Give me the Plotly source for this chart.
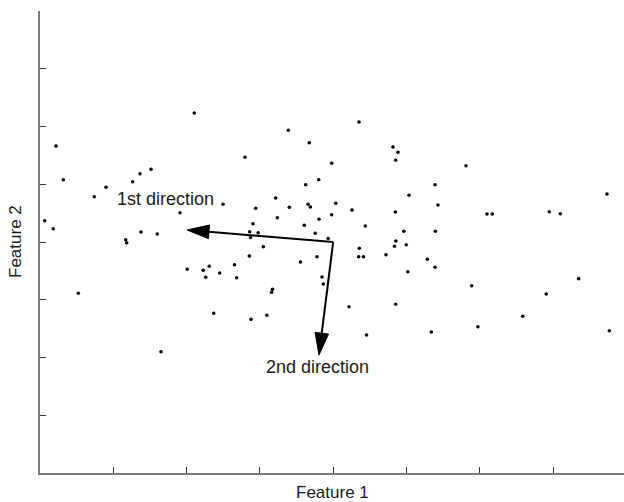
import math
import plotly.graph_objects as go

# Scatter data (Feature 1, Feature 2)
feature1 = [2.105, 0.218, 0.318, 1.515, 1.364, 1.265, 0.901, 0.741, 2.497, 1.910,
            0.064, 0.181, 4.353, 3.388, 3.674, 2.797, 4.816, 4.885, 4.853, 3.980,
            3.803, 3.625, 5.035, 3.216, 2.943, 3.402, 3.657, 3.688, 4.035, 4.257,
            4.848, 3.238, 3.807, 3.980, 2.906, 3.606, 4.439, 5.813, 5.390, 5.430,
            6.099, 6.171, 6.949, 7.099, 7.736, 1.378, 1.600, 1.169, 1.183, 2.861,
            2.977, 2.872, 3.755, 3.932, 3.047, 2.856, 2.654, 2.310, 2.008, 2.227,
            2.261, 2.452, 3.554, 3.780, 4.357, 4.348, 4.414, 0.523, 2.370, 1.651,
            2.684, 3.848, 3.866, 3.172, 3.159, 2.879, 3.095, 4.216, 4.455, 4.853,
            4.721, 4.837, 4.855, 4.998, 4.964, 5.285, 5.017, 5.394, 5.390, 5.890,
            6.907, 7.350, 6.586, 5.974, 5.339, 7.768]
feature2 = [6.234, 5.662, 5.079, 5.259, 5.183, 5.044, 4.947, 4.784, 4.653, 4.507,
            4.369, 4.229, 6.078, 5.934, 5.719, 5.467, 5.645, 5.553, 5.415, 5.363,
            5.079, 4.992, 4.809, 4.762, 4.584, 4.601, 4.653, 4.606, 4.670, 4.554,
            4.519, 4.421, 4.393, 4.473, 4.317, 4.289, 4.277, 5.321, 4.992, 4.641,
            4.485, 4.485, 4.525, 4.490, 4.831, 4.173, 4.139, 4.040, 3.988, 4.177,
            4.161, 4.078, 4.151, 4.061, 3.919, 3.758, 3.605, 3.581, 3.527, 3.510,
            3.389, 3.463, 3.654, 3.745, 3.891, 3.745, 3.745, 3.112, 2.765, 2.100,
            3.382, 3.394, 3.273, 3.181, 3.129, 2.661, 2.731, 2.880, 2.390, 2.921,
            3.780, 3.926, 4.017, 3.953, 4.185, 3.702, 3.486, 4.187, 3.562, 3.243,
            3.100, 3.365, 2.713, 2.533, 2.442, 2.464]

# Direction arrows (origin and tips)
origin = [4.0, 4.0]
dir_tips = [[2.006, 4.208], [3.807, 2.043]]
dir_labels = ["1st direction", "2nd direction"]
label_pos = [[1.706, 4.745], [3.793, 1.835]]

# Axis ticks
x_ticks = [0, 1, 2, 3, 4, 5, 6, 7]
y_ticks = [0, 1, 2, 3, 4, 5, 6, 7, 8]

# Layout geometry
W, H = 624, 502
ML, MR, MT, MB = 40, 0, 11, 29
X_RANGE = [0, (W - ML - MR) / 73.29]
Y_RANGE = [0, 8]
px_x = (W - ML - MR) / (X_RANGE[1] - X_RANGE[0])
px_y = (H - MT - MB) / (Y_RANGE[1] - Y_RANGE[0])

HEAD_LEN = 22.0   # px
HEAD_HALF = 6.8   # px

fig = go.Figure()

fig.add_trace(go.Scatter(
    x=feature1, y=feature2, mode="markers",
    marker=dict(size=3.6, color="black"),
    showlegend=False, hoverinfo="skip"))

shapes = []
for tip in dir_tips:
    dxp = (tip[0] - origin[0]) * px_x
    dyp = (tip[1] - origin[1]) * px_y
    L = math.hypot(dxp, dyp)
    ux, uy = dxp / L, dyp / L
    bx = tip[0] - ux * HEAD_LEN / px_x
    by = tip[1] - uy * HEAD_LEN / px_y
    nx, ny = -uy, ux
    p1 = (bx + nx * HEAD_HALF / px_x, by + ny * HEAD_HALF / px_y)
    p2 = (bx - nx * HEAD_HALF / px_x, by - ny * HEAD_HALF / px_y)
    fig.add_trace(go.Scatter(
        x=[origin[0], bx], y=[origin[1], by], mode="lines",
        line=dict(color="black", width=2),
        showlegend=False, hoverinfo="skip"))
    path = f"M {tip[0]},{tip[1]} L {p1[0]},{p1[1]} L {p2[0]},{p2[1]} Z"
    shapes.append(dict(type="path", path=path, xref="x", yref="y",
                       fillcolor="black", line=dict(color="black", width=1)))

for txt, pos in zip(dir_labels, label_pos):
    fig.add_annotation(x=pos[0], y=pos[1], text=txt, showarrow=False,
                       font=dict(family="Liberation Sans, Arial", size=18, color="#1a1a1a"),
                       xanchor="center", yanchor="middle")

fig.add_annotation(xref="paper", yref="paper", x=0.5, y=0, yshift=-19,
                   text="Feature 1", showarrow=False,
                   font=dict(family="Liberation Sans, Arial", size=17, color="#1a1a1a"),
                   xanchor="center", yanchor="middle")
fig.add_annotation(xref="paper", yref="paper", x=0, y=0.5, xshift=-25,
                   text="Feature 2", showarrow=False, textangle=-90,
                   font=dict(family="Liberation Sans, Arial", size=17, color="#1a1a1a"),
                   xanchor="center", yanchor="middle")

axis_common = dict(showgrid=False, zeroline=False, showticklabels=False,
                   showline=True, linecolor="#7a7a7a", linewidth=2,
                   ticks="inside", ticklen=6, tickwidth=1, tickcolor="#333333",
                   tickmode="array")

fig.update_xaxes(range=X_RANGE, tickvals=x_ticks, **axis_common)
fig.update_yaxes(range=Y_RANGE, tickvals=y_ticks, **axis_common)

fig.update_layout(width=W, height=H, shapes=shapes,
                  margin=dict(l=ML, r=MR, t=MT, b=MB),
                  plot_bgcolor="white", paper_bgcolor="white")

fig.write_html("out.html")
